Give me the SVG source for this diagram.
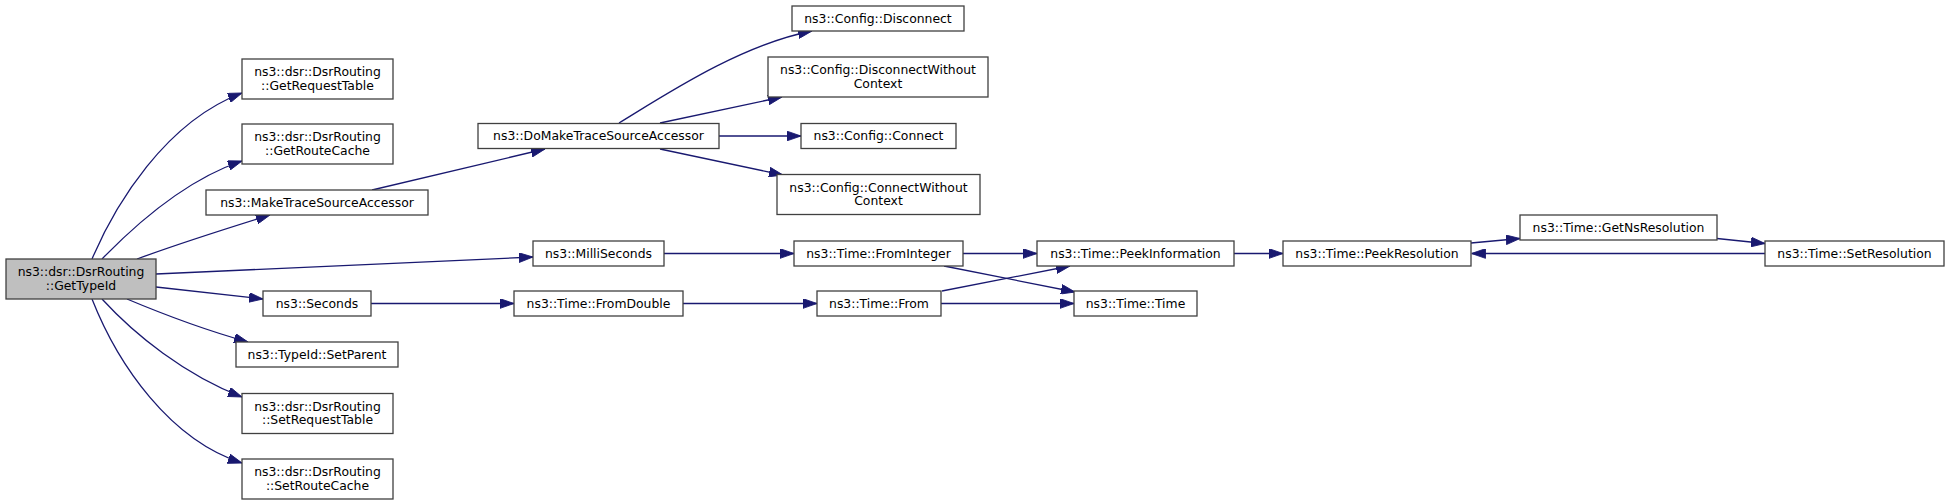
<svg xmlns="http://www.w3.org/2000/svg" width="1949" height="504" viewBox="0 0 1949 504">
<style>
.n rect{fill:#ffffff;stroke:#404040;stroke-width:1.3}
.n.h rect{fill:#bfbfbf}
.n text{font-family:"DejaVu Sans",sans-serif;font-size:12.4px;fill:#000;text-anchor:middle}
.e path{fill:none;stroke:#191970;stroke-width:1.3;marker-end:url(#a)}
</style>
<defs>
<marker id="a" markerUnits="userSpaceOnUse" markerWidth="14" markerHeight="10" viewBox="0 0 13 9" refX="13" refY="4.5" orient="auto">
<path d="M0,0 L13,4.5 L0,9 z" fill="#191970" stroke="#191970" stroke-width="0.8"/>
</marker>
</defs>
<rect width="1949" height="504" fill="#ffffff"/>
<g class="e" id="edges">
<path d="M92,259 C115,205 165,122 242,93"/>
<path d="M102,259 C135,225 185,180 242,161"/>
<path d="M137,259 C175,245 225,229 270,215"/>
<path d="M156,274 L533,257"/>
<path d="M156,287 L263,299"/>
<path d="M127,299 C165,315 205,330 248,342"/>
<path d="M102,299 C135,335 185,375 242,397"/>
<path d="M92,299 C118,365 170,440 242,463"/>
<path d="M372,190 L545,149"/>
<path d="M619,123 C665,95 740,45 812,31"/>
<path d="M660,123 L782,97"/>
<path d="M719,136 L801,136"/>
<path d="M660,149 L783,175"/>
<path d="M664,253.5 L794,253.5"/>
<path d="M963,253.5 L1037,253.5"/>
<path d="M944,266 L1075,292"/>
<path d="M942,291 L1070,266"/>
<path d="M941,303.5 L1074,303.5"/>
<path d="M371,303.5 L514,303.5"/>
<path d="M683,303.5 L817,303.5"/>
<path d="M1234,253.5 L1283,253.5"/>
<path d="M1471,243 L1520,238.5"/>
<path d="M1717,238.5 L1765,243.5"/>
<path d="M1765,253.5 L1471.5,253.5"/>
</g>
<g class="n h" id="GetTypeId"><rect x="6" y="259" width="150" height="40"/><text x="81" y="276">ns3::dsr::DsrRouting</text><text x="81" y="289.5">::GetTypeId</text></g>
<g class="n" id="GetRequestTable"><rect x="242" y="59" width="151" height="40"/><text x="317.5" y="76">ns3::dsr::DsrRouting</text><text x="317.5" y="89.5">::GetRequestTable</text></g>
<g class="n" id="GetRouteCache"><rect x="242" y="124" width="151" height="40"/><text x="317.5" y="141">ns3::dsr::DsrRouting</text><text x="317.5" y="154.5">::GetRouteCache</text></g>
<g class="n" id="MakeTraceSourceAccessor"><rect x="206" y="190" width="222" height="25"/><text x="317" y="206.5">ns3::MakeTraceSourceAccessor</text></g>
<g class="n" id="MilliSeconds"><rect x="533" y="241" width="131" height="25"/><text x="598.5" y="257.5">ns3::MilliSeconds</text></g>
<g class="n" id="Seconds"><rect x="263" y="291" width="108" height="25"/><text x="317" y="307.5">ns3::Seconds</text></g>
<g class="n" id="SetParent"><rect x="236" y="342" width="162" height="25"/><text x="317" y="358.5">ns3::TypeId::SetParent</text></g>
<g class="n" id="SetRequestTable"><rect x="242" y="393.5" width="151" height="40"/><text x="317.5" y="410.5">ns3::dsr::DsrRouting</text><text x="317.5" y="424">::SetRequestTable</text></g>
<g class="n" id="SetRouteCache"><rect x="242" y="459" width="151" height="40"/><text x="317.5" y="476">ns3::dsr::DsrRouting</text><text x="317.5" y="489.5">::SetRouteCache</text></g>
<g class="n" id="DoMakeTraceSourceAccessor"><rect x="478" y="123.5" width="241" height="25"/><text x="598.5" y="140">ns3::DoMakeTraceSourceAccessor</text></g>
<g class="n" id="ConfigDisconnect"><rect x="792" y="6" width="172" height="25"/><text x="878" y="22.5">ns3::Config::Disconnect</text></g>
<g class="n" id="ConfigDisconnectWithoutContext"><rect x="768" y="57" width="220" height="40"/><text x="878" y="74">ns3::Config::DisconnectWithout</text><text x="878" y="87.5">Context</text></g>
<g class="n" id="ConfigConnect"><rect x="801" y="123.5" width="155" height="25"/><text x="878.5" y="140">ns3::Config::Connect</text></g>
<g class="n" id="ConfigConnectWithoutContext"><rect x="777" y="174.5" width="203" height="40"/><text x="878.5" y="191.5">ns3::Config::ConnectWithout</text><text x="878.5" y="205">Context</text></g>
<g class="n" id="FromInteger"><rect x="794" y="241" width="169" height="25"/><text x="878.5" y="257.5">ns3::Time::FromInteger</text></g>
<g class="n" id="FromDouble"><rect x="514" y="291" width="169" height="25"/><text x="598.5" y="307.5">ns3::Time::FromDouble</text></g>
<g class="n" id="TimeFrom"><rect x="817" y="291" width="124" height="25"/><text x="879" y="307.5">ns3::Time::From</text></g>
<g class="n" id="PeekInformation"><rect x="1037" y="241" width="197" height="25"/><text x="1135.5" y="257.5">ns3::Time::PeekInformation</text></g>
<g class="n" id="TimeTime"><rect x="1074" y="291" width="123" height="25"/><text x="1135.5" y="307.5">ns3::Time::Time</text></g>
<g class="n" id="PeekResolution"><rect x="1283" y="241" width="188" height="25"/><text x="1377" y="257.5">ns3::Time::PeekResolution</text></g>
<g class="n" id="GetNsResolution"><rect x="1520" y="215" width="197" height="25"/><text x="1618.5" y="231.5">ns3::Time::GetNsResolution</text></g>
<g class="n" id="SetResolution"><rect x="1765" y="241" width="179" height="25"/><text x="1854.5" y="257.5">ns3::Time::SetResolution</text></g>
</svg>
